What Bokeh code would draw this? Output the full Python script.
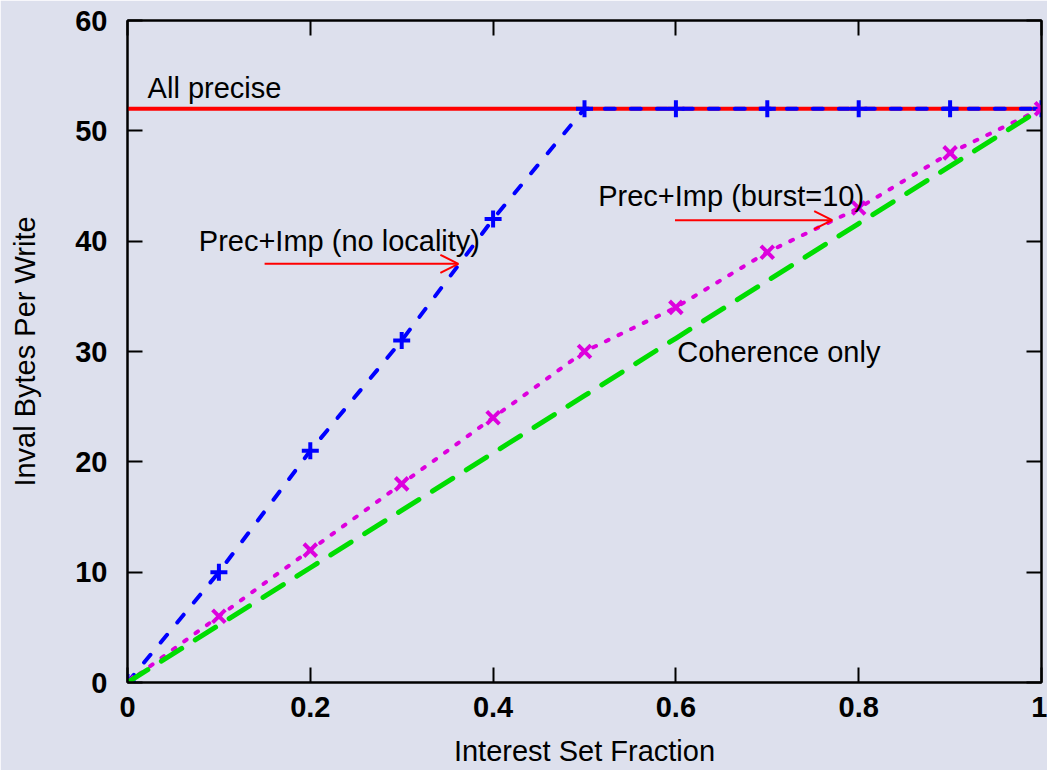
from bokeh.plotting import figure
from bokeh.models import Range1d, LinearAxis, Arrow, OpenHead, Label, FixedTicker
from bokeh.embed import file_html
from bokeh.resources import INLINE

# ---- data ----
interest_fraction = [0.0, 0.1, 0.2, 0.3, 0.4, 0.5, 0.6, 0.7, 0.8, 0.9, 1.0]
all_precise = [52, 52, 52, 52, 52, 52, 52, 52, 52, 52, 52]
prec_imp_no_locality = [0, 10, 21, 31, 42, 52, 52, 52, 52, 52, 52]
prec_imp_burst10 = [0, 6, 12, 18, 24, 30, 34, 39, 43, 48, 52]
coherence_only = [0, 5.2, 10.4, 15.6, 20.8, 26, 31.2, 36.4, 41.6, 46.8, 52]

x_ticks = [0, 0.2, 0.4, 0.6, 0.8, 1]
x_tick_labels = ["0", "0.2", "0.4", "0.6", "0.8", "1"]
y_ticks = [0, 10, 20, 30, 40, 50, 60]
y_tick_labels = ["0", "10", "20", "30", "40", "50", "60"]

x_title = "Interest Set Fraction"
y_title = "Inval Bytes Per Write"

# annotation texts (text, left x, vertical centre y)
label_texts = ["All precise", "Prec+Imp (no locality)", "Prec+Imp (burst=10)", "Coherence only"]
label_x = [0.022, 0.078, 0.515, 0.6015]
label_y = [53.9, 40.0, 44.05, 30.0]

# arrows (start -> end)
arrow_x_start = [0.150, 0.599]
arrow_x_end = [0.362, 0.771]
arrow_y = [37.95, 41.9]

BG = "#dde0ed"
FONT = "Liberation Sans"
FS = "29px"
RED = "#ff0000"
BLUE = "#0000ff"
MAG = "#dd00dd"
GREEN = "#00dd00"

p = figure(width=1047, height=770,
           x_range=Range1d(0, 1), y_range=Range1d(0, 60),
           output_backend="svg", toolbar_location=None,
           background_fill_color=BG, border_fill_color=BG,
           min_border_left=127, min_border_right=6,
           min_border_top=20, min_border_bottom=88)
p.grid.visible = False
p.outline_line_color = "black"
p.outline_line_width = 2

xa = p.xaxis[0]
ya = p.yaxis[0]
xa.ticker = FixedTicker(ticks=x_ticks)
ya.ticker = FixedTicker(ticks=y_ticks)
xa.major_label_overrides = {t: l for t, l in zip(x_ticks, x_tick_labels)}
ya.major_label_overrides = {t: l for t, l in zip(y_ticks, y_tick_labels)}
for ax in (xa, ya):
    ax.major_tick_in = 15
    ax.major_tick_out = 0
    ax.minor_tick_in = 0
    ax.minor_tick_out = 0
    ax.axis_line_width = 2
    ax.major_tick_line_width = 2
    ax.major_label_text_font = FONT
    ax.major_label_text_font_size = FS
    ax.major_label_text_font_style = "bold"
    ax.major_label_text_color = "black"
    ax.axis_label_text_font = FONT
    ax.axis_label_text_font_size = FS
    ax.axis_label_text_font_style = "normal"
    ax.axis_label_text_color = "black"

xa.axis_label = x_title
xa.major_label_standoff = 14
xa.axis_label_standoff = 15
ya.axis_label = y_title
ya.major_label_standoff = 20
ya.axis_label_standoff = 31

for loc, ticks in (("above", x_ticks), ("right", y_ticks)):
    ax = LinearAxis(ticker=FixedTicker(ticks=ticks),
                    major_tick_in=15, major_tick_out=0,
                    minor_tick_in=0, minor_tick_out=0,
                    major_label_standoff=0,
                    major_label_text_font_size="0px",
                    major_label_text_alpha=0,
                    axis_line_width=2, major_tick_line_width=2)
    p.add_layout(ax, loc)

# ---- series ----
p.line(interest_fraction, all_precise, line_color=RED, line_width=4)

p.line(interest_fraction, prec_imp_no_locality, line_color=BLUE, line_width=4,
       line_dash="10 16", line_cap="round")
p.scatter(interest_fraction, prec_imp_no_locality, marker="cross", size=17,
          line_color=BLUE, line_width=4)

p.line(interest_fraction, prec_imp_burst10, line_color=MAG, line_width=4,
       line_dash="3 11", line_cap="round")
p.scatter(interest_fraction, prec_imp_burst10, marker="x", size=18,
          line_color=MAG, line_width=4)

p.line(interest_fraction, coherence_only, line_color=GREEN, line_width=5,
       line_dash="24 16", line_cap="round")

# ---- annotations ----
for t, lx, ly in zip(label_texts, label_x, label_y):
    p.add_layout(Label(x=lx, y=ly, text=t, text_font=FONT, text_font_size=FS,
                       text_color="black", text_align="left",
                       text_baseline="middle"))

for xs, xe, yy in zip(arrow_x_start, arrow_x_end, arrow_y):
    p.add_layout(Arrow(x_start=xs, y_start=yy, x_end=xe, y_end=yy,
                       line_color=RED, line_width=2,
                       end=OpenHead(size=18, line_color=RED, line_width=2)))

open("out.html", "w").write(file_html(p, INLINE))
